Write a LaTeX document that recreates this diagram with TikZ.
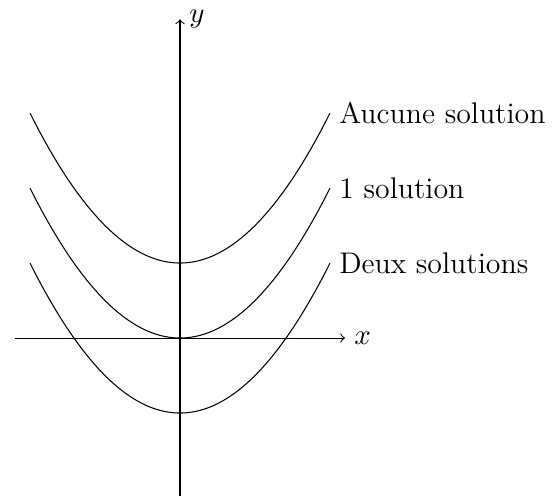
\documentclass[tikz,border=0pt]{standalone}
\begin{document}
\begin{tikzpicture}[x=75pt/2.64,y=75pt/2.64,
  font=\fontsize{11.3}{13.5}\selectfont,
  curve/.style={black,line width=0.4pt},
  lab/.style={right}]
\useasboundingbox (-2.4,-2.16) rectangle (5.0,4.507);
\draw[->] (-2.2,0) -- (2.2,0) node[right] (xl) {$x$};
\draw[->] (0,-2.1) -- (0,4.25) node[right] (yl) {$y$};
\draw[curve,domain=-2:2,samples=80] plot (\x,{\x*\x/2+1});
\draw[curve,domain=-2:2,samples=80] plot (\x,{\x*\x/2});
\draw[curve,domain=-2:2,samples=80] plot (\x,{\x*\x/2-1});
\node[lab] (a) at (2,3) {Aucune solution};
\node[lab] (b) at (2,2) {1 solution};
\node[lab] (c) at (2,1) {Deux solutions};
\end{tikzpicture}
\end{document}
